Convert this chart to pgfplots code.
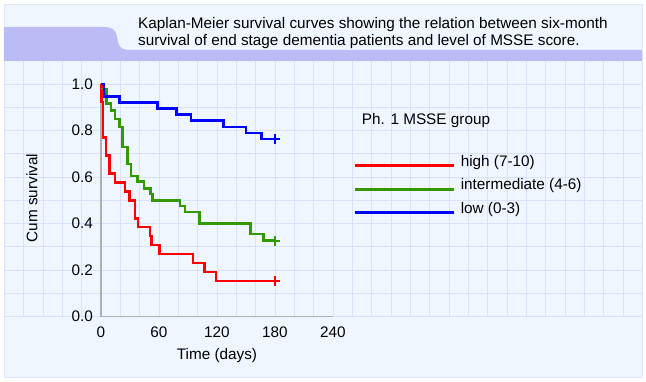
\documentclass[border=0pt]{standalone}
\usepackage{pgfplots}
\pgfplotsset{compat=1.18}
\usepackage{fontspec}
\setmainfont{Liberation Sans}
\definecolor{panel}{RGB}{239,246,255}
\definecolor{gridc}{RGB}{218,225,250}
\definecolor{lav}{RGB}{187,187,246}
\definecolor{axgray}{RGB}{175,175,175}
\definecolor{kmred}{RGB}{255,0,0}
\definecolor{kmgreen}{RGB}{51,153,0}
\definecolor{kmblue}{RGB}{0,0,255}
\newcommand\fs{\fontsize{15.3pt}{18pt}\selectfont}
\begin{document}
\begin{tikzpicture}[x=1pt,y=1pt]
% page and panel
\fill[white] (-101,-64.33) rectangle (545,316.67);
\fill[panel] (-97,-60.33) rectangle (541,312.67);
\draw[gridc!70!panel, line width=0.6pt] (-97,-60.33) rectangle (541,312.67);
% grid
\foreach \k in {-5,...,28} \draw[gridc, line width=0.8pt] ({\k*19.3333},0) -- ({\k*19.3333},255.9);
\foreach \j in {0,...,11} \draw[gridc, line width=0.8pt] (-97,{\j*23.267}) -- (541,{\j*23.267});
% banner
\fill[lav] (-97,255.67) -- (-97,289.67) -- (2,289.67)
  .. controls (11,289.67) and (14,287) .. (15.5,282)
  -- (17.5,273) .. controls (19,268.5) and (22,266.67) .. (30,266.67)
  -- (541,266.67) -- (541,255.67) -- cycle;
\node[anchor=base west, inner sep=0pt, font=\fs] at (37,288) {Kaplan-Meier survival curves showing the relation between six-month};
\node[anchor=base west, inner sep=0pt, font=\fs] at (37,271.5) {survival of end stage dementia patients and level of MSSE score.};
\node[anchor=base west, inner sep=0pt, font=\fs] at (260.7,191.7) {Ph. 1 MSSE group};
\begin{axis}[
  anchor=origin, at={(0pt,0pt)},
  x=0.966667pt, y=232.67pt,
  xmin=0, xmax=240, ymin=0, ymax=1,
  clip=false,
  axis x line*=bottom, axis y line*=left,
  axis line style={draw=axgray, line width=1.3pt, -},
  xtick={0,60,120,180,240},
  ytick={0,0.2,0.4,0.6,0.8,1.0},
  major tick length=0pt,
  tick label style={font=\fs},
  /pgf/number format/assume math mode=true,
  yticklabel style={inner sep=0pt, xshift=-8pt, /pgf/number format/.cd, fixed, fixed zerofill, precision=1},
  xticklabel style={inner sep=0pt, yshift=-10pt},
  xlabel={Time (days)},
  ylabel={Cum survival},
  every axis x label/.style={at={(axis cs:120,-0.169)}, anchor=center, font=\fs},
  every axis y label/.style={at={(axis cs:-71.4,0.51)}, anchor=center, rotate=90, font=\fs},
  legend cell align=left,
  legend style={draw=none, fill=none, inner sep=0pt, font=\fs,
    at={(axis cs:260.7,0.70)}, anchor=north west, row sep=0pt,
    nodes={inner sep=0pt, text height=12pt, text depth=11.5pt}},
  legend image code/.code={\draw[#1, line width=2.6pt] (0pt,0pt) -- (99pt,0pt);},
  /tikz/every odd column/.style={column sep=6pt},
]
\addplot[const plot, kmred, line width=2.6pt] coordinates {
(0,1) (0.4,0.923) (2,0.769) (5.2,0.692) (8.6,0.615) (14.5,0.577) (24.8,0.538)
(29.3,0.5) (35.2,0.423) (38.3,0.385) (50.7,0.346) (52.4,0.308) (60.3,0.269)
(95,0.231) (107.3,0.192) (118.8,0.154) (180,0.154)};
\addlegendentry{high (7-10)}
\addplot[const plot, kmgreen, line width=2.6pt] coordinates {
(0,0.979) (5.9,0.917) (10.5,0.885) (14.5,0.85) (19,0.815) (22.5,0.73)
(27.6,0.656) (31,0.605) (37.6,0.58) (44.5,0.552) (51.4,0.527) (53.4,0.5)
(81.7,0.475) (86.9,0.45) (101.7,0.4) (154.8,0.355) (168,0.327) (180,0.327)};
\addlegendentry{intermediate (4-6)}
\addplot[const plot, kmblue, line width=2.6pt] coordinates {
(0,1) (3,0.947) (19,0.921) (58.6,0.895) (78,0.868) (93,0.842) (127,0.816)
(150,0.789) (166,0.763) (180,0.763)};
\addlegendentry{low (0-3)}
\addplot[only marks, mark=+, mark size=5pt, kmred, line width=2pt, forget plot] coordinates {(180,0.154)};
\addplot[only marks, mark=+, mark size=5pt, kmgreen, line width=2pt, forget plot] coordinates {(180,0.327)};
\addplot[only marks, mark=+, mark size=5pt, kmblue, line width=2pt, forget plot] coordinates {(180,0.763)};
\end{axis}
\end{tikzpicture}
\end{document}
